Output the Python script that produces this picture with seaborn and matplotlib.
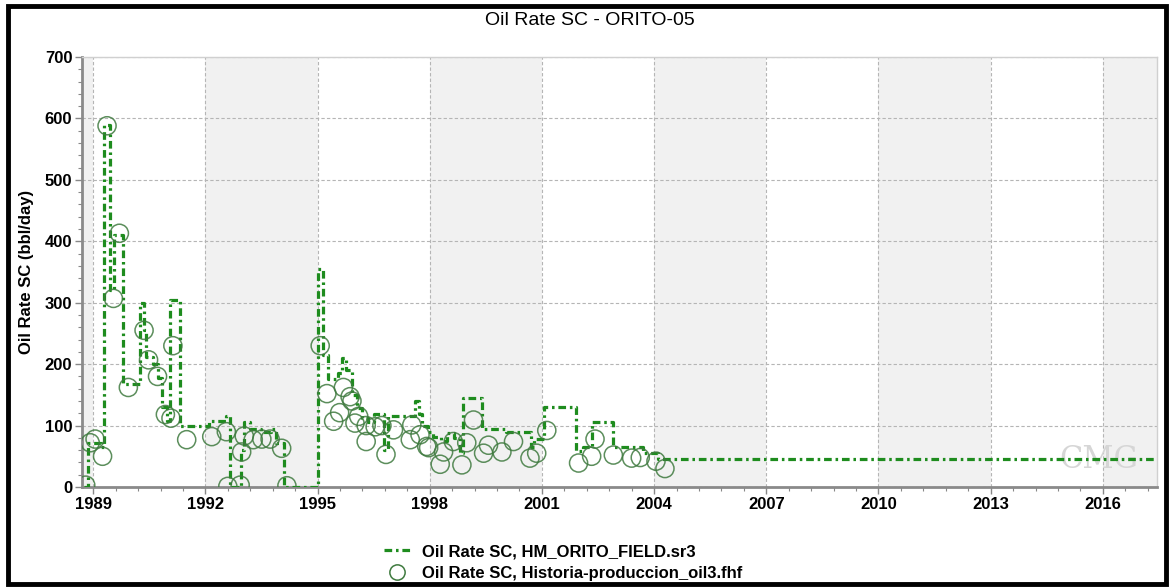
import numpy as np
import pandas as pd
import seaborn as sns
import matplotlib.pyplot as plt
from matplotlib.lines import Line2D
from matplotlib.patches import Rectangle
from matplotlib.ticker import MultipleLocator

# simulated oil rate (step function, value holds until next date)
sim_years = [1988.75, 1988.85, 1989.20, 1989.30, 1989.45, 1989.55, 1989.80, 1990.25,
             1990.35, 1990.42, 1990.60, 1990.72, 1990.85, 1990.98, 1991.05, 1991.32,
             1992.10, 1992.55, 1992.65, 1992.95, 1993.02, 1993.20, 1993.50, 1993.75,
             1993.90, 1994.10, 1995.00, 1995.15, 1995.28, 1995.55, 1995.65, 1995.75,
             1995.92, 1996.05, 1996.18, 1996.35, 1996.50, 1996.78, 1996.88, 1997.60,
             1997.70, 1997.80, 1997.95, 1998.10, 1998.30, 1998.45, 1998.65, 1998.80,
             1998.90, 1999.40, 2000.05, 2000.70, 2000.80, 2001.05, 2001.90, 2002.10,
             2002.35, 2002.90, 2003.70, 2004.10, 2017.45]
sim_rates = [0, 72, 65, 590, 320, 410, 168, 300,
             255, 212, 200, 178, 130, 108, 305, 100,
             108, 115, 0, 60, 105, 95, 90, 95,
             72, 0, 355, 215, 175, 185, 210, 190,
             150, 128, 112, 105, 118, 60, 115, 140,
             118, 100, 90, 82, 75, 88, 80, 55,
             145, 95, 90, 65, 78, 130, 58, 65,
             105, 65, 55, 45, 45]

# historical production points
hist_years = [1988.80, 1988.92, 1989.05, 1989.25, 1989.37, 1989.54, 1989.70, 1989.94,
              1990.36, 1990.48, 1990.72, 1990.93, 1991.08, 1991.13, 1991.50, 1992.17,
              1992.56, 1992.60, 1992.93, 1992.97, 1993.04, 1993.28, 1993.51, 1993.73,
              1994.04, 1994.18, 1995.07, 1995.25, 1995.43, 1995.59, 1995.69, 1995.87,
              1995.92, 1996.10, 1996.00, 1996.30, 1996.30, 1996.54, 1996.72, 1996.83,
              1997.03, 1997.48, 1997.52, 1997.74, 1997.97, 1997.92, 1998.37, 1998.28,
              1998.63, 1998.99, 1998.86, 1999.17, 1999.44, 1999.57, 1999.93, 2000.24,
              2000.68, 2000.86, 2001.13, 2001.98, 2002.33, 2002.42, 2002.91, 2003.40,
              2003.63, 2004.05, 2004.29]
hist_rates = [3, 72, 78, 50, 588, 307, 413, 162,
              255, 207, 180, 118, 112, 230, 77, 82,
              90, 1, 3, 57, 83, 77, 78, 78,
              63, 2, 230, 152, 107, 121, 162, 147,
              140, 115, 104, 100, 74, 98, 100, 53,
              93, 77, 101, 85, 64, 66, 57, 37,
              74, 72, 36, 109, 55, 68, 57, 74,
              47, 55, 92, 39, 50, 78, 52, 47,
              48, 42, 30]

sim = pd.DataFrame({"year": sim_years, "rate": sim_rates})
hist = pd.DataFrame({"year": hist_years, "rate": hist_rates})

sns.set_style("white")
plt.rcParams["font.family"] = ["Liberation Sans", "DejaVu Sans"]
plt.rcParams["text.color"] = "black"
plt.rcParams["xtick.labelcolor"] = "black"
plt.rcParams["ytick.labelcolor"] = "black"

fig = plt.figure(figsize=(11.73, 5.88), dpi=100)
ax = fig.add_axes([0.0699, 0.1718, 0.9165, 0.7313])

# alternating shaded bands every 3 years
for start in range(1986, 2017, 6):
    ax.axvspan(start, start + 3, color="#f1f1f1", zorder=0, lw=0)

line_dashes = [2.4, 1.2, 0.8, 1.2]
sns.lineplot(data=sim, x="year", y="rate", ax=ax, drawstyle="steps-post",
             color="#1e8c1e", lw=2.3, estimator=None, sort=False, zorder=3)
ax.lines[-1].set_dashes(line_dashes)

sns.scatterplot(data=hist, x="year", y="rate", ax=ax, s=170, marker="o",
                facecolors="none", edgecolor="#3f7a3f", linewidth=1.1,
                alpha=0.85, zorder=4)

ax.set_xlim(1988.7, 2017.45)
ax.set_ylim(0, 700)
ax.set_xticks(range(1989, 2017, 3))
ax.xaxis.set_minor_locator(MultipleLocator(0.6))
ax.yaxis.set_major_locator(MultipleLocator(100))
ax.yaxis.set_minor_locator(MultipleLocator(20))
ax.grid(True, which="major", color="#b5b5b5", linestyle=(0, (3, 2)), lw=0.8, zorder=1)
ax.set_axisbelow(True)

ax.tick_params(axis="both", which="major", direction="out", length=5, width=1,
               color="#888888", labelsize=12, pad=2)
ax.tick_params(axis="both", which="minor", direction="out", length=3, width=0.8,
               color="#888888")
ax.tick_params(axis="x", which="both", bottom=True)
ax.tick_params(axis="y", which="both", left=True)
for lbl in ax.get_xticklabels() + ax.get_yticklabels():
    lbl.set_fontweight("bold")

for side in ["left", "bottom"]:
    ax.spines[side].set_color("#8a8a8a")
    ax.spines[side].set_linewidth(2)
for side in ["top", "right"]:
    ax.spines[side].set_color("#d0d0d0")
    ax.spines[side].set_linewidth(1)

ax.set_xlabel("")
ax.set_ylabel("Oil Rate SC (bbl/day)", fontsize=12, fontweight="bold", labelpad=8,
              color="black")
fig.text(0.503, 0.965, "Oil Rate SC - ORITO-05", ha="center", va="center", fontsize=14)

# faint watermark
ax.text(2015.9, 45, "CMG", fontsize=22, color="#d6d6d6", family="DejaVu Serif",
        ha="center", va="center", zorder=2)

handles = [
    Line2D([], [], color="#1e8c1e", lw=2.3, dashes=line_dashes),
    Line2D([], [], marker="o", ls="none", markersize=11, markerfacecolor="none",
           markeredgecolor="#3f7a3f", markeredgewidth=1.1),
]
labels = ["Oil Rate SC, HM_ORITO_FIELD.sr3",
          "Oil Rate SC, Historia-produccion_oil3.fhf"]
fig.legend(handles, labels, loc="upper center", bbox_to_anchor=(0.48, 0.1),
           frameon=False, prop={"weight": "bold", "size": 12}, handlelength=1.6,
           labelspacing=0.4, handletextpad=0.7)

# black frame around the whole figure
fig.patches.append(Rectangle((8 / 1173, 4 / 588), 1158 / 1173, 578 / 588,
                             transform=fig.transFigure, fill=False,
                             edgecolor="black", lw=3.5))

fig.savefig("out.png", dpi=100)
